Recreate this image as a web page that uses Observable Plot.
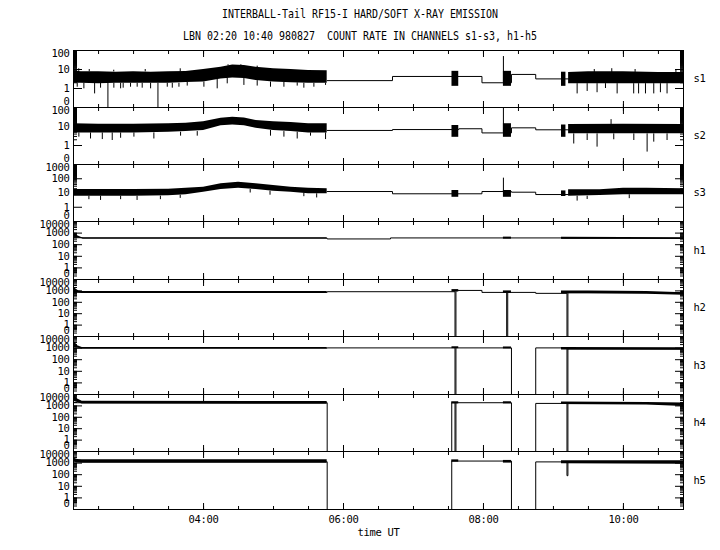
<!DOCTYPE html>
<html><head><meta charset="utf-8">
<script src="https://cdn.jsdelivr.net/npm/d3@7"></script>
<script src="https://cdn.jsdelivr.net/npm/@observablehq/plot@0.6"></script>
<style>
body{margin:0;background:#fff;width:720px;height:550px;overflow:hidden;color:#000;font-family:"DejaVu Sans Mono",monospace;}
#head{height:50px;position:relative;}
#head div{position:absolute;left:0;width:720px;text-align:center;line-height:14px;font-size:12px;white-space:pre;transform:scaleX(0.83);transform-origin:360px 0;}
#charts svg{display:block}
</style></head><body>
<div id="head"><div style="top:7px">INTERBALL-Tail RF15-I HARD/SOFT X-RAY EMISSION</div><div style="top:29px">LBN 02:20 10:40 980827  COUNT RATE IN CHANNELS s1-s3, h1-h5</div></div>
<div id="charts"></div>
<script>
// ---- time axis ----
const timeDomain = ["02:08.5", "10:51.5"];
const majorTimes = ["04:00", "06:00", "08:00", "10:00"];
const channelNames = ["s1", "s2", "s3", "h1", "h2", "h3", "h4", "h5"];
const channelTops = [100, 100, 1000, 10000, 10000, 10000, 10000, 10000];
const labelsS12 = [1, 10];
const labelsS3 = [1, 10, 100];
const labelsH = [1, 10, 100, 1000];

// ---- s1 ----  band rows: [segment, time, low, high]
const s1Band = [
  ["a","02:08.5",1.9,8.5],["a","02:15",1.9,7.5],["a","02:30",1.8,7.5],["a","02:45",1.9,7.2],
  ["a","03:00",1.9,7.5],["a","03:15",1.9,7.2],["a","03:30",1.9,7.5],["a","03:45",2.1,7.8],
  ["a","04:00",2.2,10],["a","04:15",3.2,13.3],["a","04:25",3.6,17],["a","04:35",3.4,16],
  ["a","04:45",2.6,13],["a","05:00",2.2,11],["a","05:15",2.0,10],["a","05:30",1.9,8.9],["a","05:46",1.9,8.5],
  ["b","07:33",1.3,8],["b","07:38.8",1.3,8],
  ["c","08:17.1",1.3,8],["c","08:24",1.3,8],
  ["d","09:06.9",1.3,7.2],["d","09:10.7",1.3,7.2],
  ["e","09:13",1.8,7],["e","09:30",1.8,7.5],["e","10:00",1.8,7.5],["e","10:30",1.8,7],["e","10:51.5",1.8,7]
];
const s1Line = [["05:46",2.6],["06:42",4.3],["07:58.7",2.0],["08:24",5.5],["08:44.8",3.2],["09:13",3.2]];
const s1Spikes = [
  ["02:11.7",1.9,1.17],["02:17.4",1.9,0.96],["02:26.6",1.9,0.52],["02:31.7",1.9,1.04],["02:38",1.9,0],
  ["02:43.1",1.9,1.04],["02:48.9",1.9,0.96],["02:51.1",1.9,1.04],["02:57.4",1.9,1.17],["03:03.1",1.9,1.17],
  ["03:07.4",1.9,1.04],["03:14.6",1.9,0.96],["03:20.9",1.9,0],["03:28.9",1.9,1.17],["03:33.2",1.9,1.04],
  ["03:38.9",1.9,1.17],["03:46",2.1,1.34],["04:00.3",2.2,1.17],["04:11.7",3,0.96],["04:20.3",3.5,1.76],
  ["04:34.6",3.4,1.45],["04:46",2.6,1.34],["04:57.4",2.2,1.17],["05:08.9",2.1,1.17],["05:20.3",2.0,1.34],
  ["05:26",1.9,1.04],["05:34.6",1.9,1.17],["05:44.6",1.9,1.45],
  ["02:13",8,10.9],["02:22",7.5,10],["02:43",7.5,9.2],["03:10",7.5,10],["03:40",7.5,10.9],
  ["04:21",15,17.7],["04:32",15,17.7],["04:46",12,15],
  ["08:17.1",2.0,48],
  ["09:20.3",1.8,0.52],["09:28.9",1.8,0.7],["09:37.4",1.8,0.6],["09:44.6",1.8,1.0],["09:54.6",1.8,0.52],
  ["10:08.8",1.8,0.52],["10:13",1.8,0.52],["10:18.9",1.8,0.52],["10:26",1.8,0.52],["10:31.7",1.8,0.6],
  ["10:37.4",1.8,0.52],["09:35",7,10],["09:50",7,11],["10:10",7,10],["10:45",7,10]
];

// ---- s2 ----
const s2Band = [
  ["a","02:08.5",4.6,14],["a","02:30",4.6,13],["a","03:00",4.6,13],["a","03:30",5,14],["a","03:45",5.4,15],
  ["a","04:00",6.2,17.7],["a","04:15",11,27],["a","04:25",12,31],["a","04:35",11,28],["a","04:45",8.2,21],
  ["a","05:00",6.2,17.7],["a","05:15",5.4,16],["a","05:30",4.6,14],["a","05:46",4.6,14],
  ["b","07:33",2.7,11.3],["b","07:38.8",2.7,11.3],
  ["c","08:17.1",2.7,14],["c","08:24",2.7,14],
  ["d","09:06.9",2.7,12],["d","09:10.7",2.7,12],
  ["e","09:13",4.1,12.8],["e","10:00",4.1,13],["e","10:51.5",4.1,12.8]
];
const s2Line = [["05:46",6.2],["06:42",6.9],["07:38.8",7.6],["07:58.7",4.6],["08:24",8.5],["08:44.8",6.7],["09:13",6.7]];
const s2Spikes = [
  ["02:13.1",4.6,2.75],["02:23.1",4.6,2.2],["02:33.2",4.6,2.05],["02:41.7",4.6,1.83],["02:48.9",4.6,2.4],
  ["03:00.3",4.6,2.75],["03:17.4",4.6,2.2],["03:40.3",5,3.1],["03:54.6",5.4,3.1],["04:57.4",6.2,3.1],
  ["05:08.9",5.4,2.75],["05:20.3",5,2.2],["05:31.7",4.6,3.1],["05:44.6",4.6,2.05],
  ["08:17.1",4.6,100],["09:49.4",12.8,23],
  ["09:17.4",4.1,1.2],["09:28.9",4.1,1.83],["09:37.4",4.1,0.82],["09:51.7",4.1,2],["10:08.9",4.1,1.83],
  ["10:20.3",4.1,0.45],["10:26",4.1,1.5],["10:37.4",4.1,1.83]
];

// ---- s3 ----
const s3Band = [
  ["a","02:08.5",6,17.6],["a","02:30",6,17.6],["a","03:00",6,17.6],["a","03:30",6.5,18.5],["a","03:45",7.5,21.6],
  ["a","04:00",11.4,25.7],["a","04:15",17.6,44],["a","04:30",21.6,57],["a","04:45",17.6,44],["a","05:00",13.4,34],
  ["a","05:15",11.4,25.7],["a","05:30",8.8,21.6],["a","05:46",8.8,19.5],
  ["b","07:33",5,15],["b","07:38.8",5,15],
  ["c","08:17.1",5,15],["c","08:24",5,15],
  ["d","09:06.9",5.7,14],["d","09:10.7",5.7,14],
  ["e","09:13",6,16.8],["e","09:40",6.7,17],["e","10:00",7.5,21.6],["e","10:20",7.5,21.6],["e","10:51.5",7.5,19.5]
];
const s3Line = [["05:46",12.7],["06:42",8.8],["07:58.7",12.7],["08:24",11.4],["08:44.8",7.8],["09:13",7.8]];
const s3Spikes = [
  ["02:21.7",6,3.4],["02:31.7",6,3.0],["02:48.9",6,3.4],["03:03",6,3.0],["03:23",6,3.4],["03:40",7,4.2],
  ["04:40",17.6,10],["04:57",13.4,7],["05:26",10,5.5],["05:37",8.8,4.5],
  ["08:17.1",12.7,110],["09:20.3",6,2.7],["09:28.9",6,3.5],["10:05",7.5,4]
];

// ---- h1..h5 ----  line rows: [time, value] (step-after), 0 = no counts
const h1Band = [["a","02:08.5",500,1200],["a","02:12",380,600],["a","02:16",330,400],["a","05:46",320,400],
  ["c","08:17.1",300,450],["c","08:24",300,450],["e","09:06.9",290,430],["e","10:00",290,420],["e","10:51.5",280,400]];
const h1Line = [["02:08.5",400],["02:16",360],["05:46",313],["06:40.3",383],["09:06.9",360],["10:51.5",360]];

const h2Band = [["a","02:08.5",800,2100],["a","02:13",700,1000],["a","02:16",600,900],["a","05:46",600,900],
  ["b","07:33",800,1300],["b","07:38.8",800,1300],["c","08:17.1",600,1000],["c","08:24",600,1000],
  ["e","09:06.9",550,1000],["e","09:30",550,1000],["e","10:20",500,900],["e","10:51.5",420,700]];
const h2Line = [["02:08.5",750],["05:46",850],["07:35.6",0],["07:36.4",1100],["07:58.7",740],["08:19.9",0],
  ["08:20.8",740],["08:44.8",610],["09:11.6",0],["09:12.4",700],["10:51.5",700]];

const h3Band = [["a","02:08.5",1200,4500],["a","02:12",1000,1600],["a","02:16",850,1150],["a","05:46",850,1150],
  ["b","07:33",900,1300],["b","07:38.8",900,1300],["c","08:17.1",850,1250],["c","08:24",850,1250],
  ["e","09:06.9",700,1150],["e","10:51.5",650,1050]];
const h3Line = [["02:08.5",1000],["05:46",1040],["07:35.6",0],["07:36.4",1040],["08:24",0],["08:44.8",1040],
  ["09:11.6",0],["09:12.4",850],["10:51.5",850]];

const h4Band = [["a","02:08.5",2600,10000],["a","02:12",2000,4000],["a","02:16",1500,2600],["a","05:46",1400,2400],
  ["b","07:32.8",1500,2300],["b","07:38.8",1500,2300],["c","08:17.1",1500,2300],["c","08:24",1500,2300],
  ["e","09:06.9",1300,2200],["e","10:20",1200,2000],["e","10:51.5",900,1800]];
const h4Line = [["02:08.5",1900],["05:46",0],["07:32.8",1900],["07:35.6",0],["07:36.4",1900],["08:24",0],
  ["08:44.8",1650],["09:11.6",0],["09:12.4",1600],["10:51.5",1600]];

const h5Band = [["a","02:08.5",1400,2800],["a","02:12",1000,2000],["a","02:16",960,1900],["a","05:46",960,1900],
  ["b","07:32.8",1200,1900],["b","07:38.8",1200,1900],["c","08:17.1",1000,1700],["c","08:24",1000,1700],
  ["e","09:06.9",900,1600],["e","10:51.5",800,1600]];
const h5Line = [["02:08.5",1300],["05:46",0],["07:32.8",1500],["08:24",0],["08:44.8",1270],["09:11.6",82],
  ["09:12.4",1200],["10:51.5",1200]];

const bands = [s1Band, s2Band, s3Band, h1Band, h2Band, h3Band, h4Band, h5Band];
const lines = [s1Line, s2Line, s3Line, h1Line, h2Line, h3Line, h4Line, h5Line];
const spikes = [s1Spikes, s2Spikes, s3Spikes, [], [], [], [], []];
const labelSets = [labelsS12, labelsS12, labelsS3, labelsH, labelsH, labelsH, labelsH, labelsH];

// ---- drawing ----
const T = s => { const [h, m] = s.split(":"); return new Date(Date.UTC(1998, 7, 27, +h) + (+m) * 60000); };
const FLOOR = 0.1;
const cv = v => Math.max(v, FLOOR);
const xDomain = timeDomain.map(T);
const minorT = d3.utcMinute.every(30).range(xDomain[0], xDomain[1]);
const majorT = majorTimes.map(T);
const heights = [57, 57, 57, 58, 57, 58, 57, 58];
const noText = () => "";

const host = document.getElementById("charts");
channelNames.forEach((name, i) => {
  const last = i === channelNames.length - 1;
  const top = channelTops[i];
  const decades = [0.1, ...labelSets[i], top];
  const marks = [
    Plot.areaY(bands[i], {x: d => T(d[1]), y1: d => cv(d[2]), y2: d => cv(d[3]), z: d => d[0], fill: "black", curve: "linear"}),
    Plot.line(lines[i], {x: d => T(d[0]), y: d => cv(d[1]), curve: "step-after", stroke: "black", strokeWidth: 1}),
    Plot.ruleX(spikes[i], {x: d => T(d[0]), y1: d => cv(d[1]), y2: d => cv(d[2]), stroke: "black", strokeWidth: 1}),
    Plot.frame({stroke: "black"}),
    Plot.axisX({anchor: "top", ticks: minorT, tickSize: -3, tickFormat: noText, label: null}),
    Plot.axisX({anchor: "bottom", ticks: minorT, tickSize: -3, tickFormat: noText, label: null}),
    Plot.axisX({anchor: "top", ticks: majorT, tickSize: -6, tickFormat: noText, label: null}),
    Plot.axisX({anchor: "bottom", ticks: majorT, tickSize: -6, tickFormat: noText, label: null}),
    Plot.axisY({anchor: "left", ticks: 80, tickSize: -4, tickFormat: noText, label: null}),
    Plot.axisY({anchor: "right", ticks: 80, tickSize: -4, tickFormat: noText, label: null}),
    Plot.axisY({anchor: "left", ticks: decades, tickSize: -9, tickFormat: noText, label: null}),
    Plot.axisY({anchor: "right", ticks: decades, tickSize: -9, tickFormat: noText, label: null}),
    Plot.axisY({anchor: "left", ticks: labelSets[i], tickSize: 0, tickPadding: 4, tickFormat: d => String(d), label: null}),
    Plot.axisY({anchor: "left", ticks: [top], tickSize: 0, tickPadding: 4, dy: 3, tickFormat: d => String(d), label: null}),
    Plot.axisY({anchor: "left", ticks: [FLOOR], tickSize: 0, tickPadding: 4, dy: -6, tickFormat: () => "0", label: null}),
    Plot.text([name], {text: d => d, frameAnchor: "right", dx: 10, textAnchor: "start"})
  ];
  if (last) {
    marks.push(Plot.axisX({anchor: "bottom", ticks: majorT, tickSize: 0, tickPadding: 6, tickFormat: d3.utcFormat("%H:%M"), label: null}));
    marks.push(Plot.text(["time UT"], {text: d => d, frameAnchor: "bottom", dy: 26}));
  }
  const svg = Plot.plot({
    width: 720,
    height: heights[i] + (last ? 41 : 0),
    marginLeft: 73, marginRight: 37, marginTop: 0, marginBottom: last ? 41 : 0,
    x: {type: "utc", domain: xDomain, label: null},
    y: {type: "log", domain: [FLOOR, top], label: null},
    style: {background: "transparent", overflow: "visible", color: "black", fontFamily: "DejaVu Sans Mono", fontSize: "10.5px", letterSpacing: "-0.3px"},
    marks
  });
  host.appendChild(svg);
});
</script>
</body></html>
